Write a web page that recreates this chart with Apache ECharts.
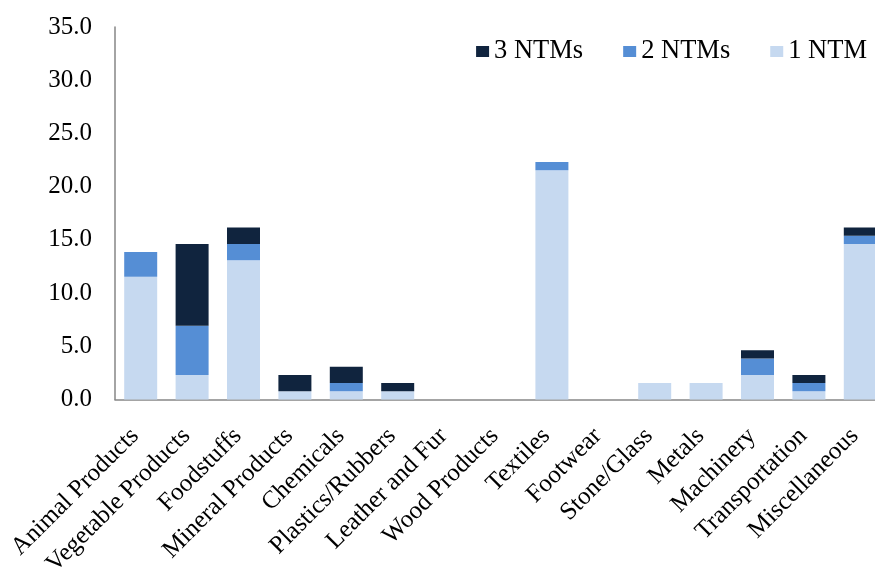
<!DOCTYPE html>
<html>
<head>
<meta charset="utf-8">
<script src="https://cdn.jsdelivr.net/npm/echarts@6/dist/echarts.min.js"></script>
<style>
html,body{margin:0;padding:0;background:#fff;}
#chart{width:875px;height:573px;}
</style>
</head>
<body>
<div id="chart"></div>
<script>
const categories = ["Animal Products","Vegetable Products","Foodstuffs","Mineral Products","Chemicals","Plastics/Rubbers","Leather and Fur","Wood Products","Textiles","Footwear","Stone/Glass","Metals","Machinery","Transportation","Miscellaneous"];
const ntm1 = [11.54, 2.31, 13.08, 0.77, 0.77, 0.77, 0, 0, 21.54, 0, 1.54, 1.54, 2.31, 0.77, 14.62];
const ntm2 = [2.31, 4.62, 1.54, 0, 0.77, 0, 0, 0, 0.77, 0, 0, 0, 1.54, 0.77, 0.77];
const ntm3 = [0, 7.69, 1.54, 1.54, 1.54, 0.77, 0, 0, 0, 0, 0, 0, 0.77, 0.77, 0.77];
const yTicks = [0, 5, 10, 15, 20, 25, 30, 35];

const font = "'Liberation Serif', 'Times New Roman', serif";
const chart = echarts.init(document.getElementById('chart'), null, {renderer: 'canvas'});
chart.setOption({
  animation: false,
  textStyle: {fontFamily: font},
  grid: {left: 115, top: 27, width: 771, height: 372.5, containLabel: false, outerBoundsMode: 'none'},
  legend: {
    data: ['3 NTMs', '2 NTMs', '1 NTM'],
    right: 3, top: 33,
    itemWidth: 13, itemHeight: 11, itemGap: 40,
    textStyle: {fontFamily: font, fontSize: 26.5, color: '#000'},
    icon: 'rect'
  },
  xAxis: {
    type: 'category',
    data: categories,
    axisLine: {lineStyle: {color: '#868686', width: 1.5}},
    axisTick: {show: false},
    axisLabel: {rotate: 45, interval: 0, margin: 27, padding: [0, 8, 0, 0], fontFamily: font, fontSize: 25, color: '#000'}
  },
  yAxis: {
    type: 'value',
    min: yTicks[0], max: yTicks[yTicks.length - 1], interval: 5,
    axisLine: {show: true, lineStyle: {color: '#868686', width: 1.5}},
    axisTick: {show: false},
    splitLine: {show: false},
    axisLabel: {margin: 23, fontFamily: font, fontSize: 25, color: '#000', formatter: v => v.toFixed(1)}
  },
  series: [
    {name: '1 NTM', type: 'bar', stack: 'a', data: ntm1, barWidth: 33, itemStyle: {color: '#C6D9F0'}},
    {name: '2 NTMs', type: 'bar', stack: 'a', data: ntm2, barWidth: 33, itemStyle: {color: '#558ED5'}},
    {name: '3 NTMs', type: 'bar', stack: 'a', data: ntm3, barWidth: 33, itemStyle: {color: '#10243E'}}
  ]
});
</script>
</body>
</html>
